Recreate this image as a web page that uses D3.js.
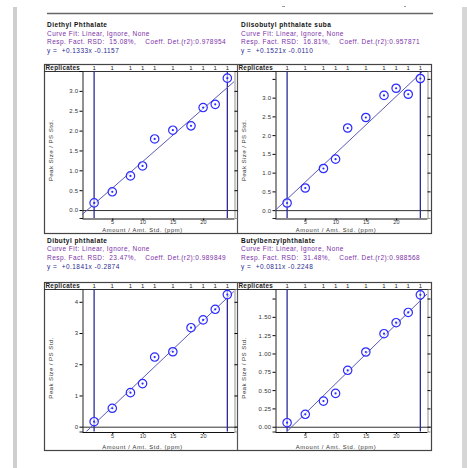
<!DOCTYPE html>
<html>
<head>
<meta charset="utf-8">
<script src="https://cdn.jsdelivr.net/npm/d3@7"></script>
<style>
  body { margin: 0; background: #fff; }
  text { font-family: Arial, "Liberation Sans", sans-serif; }
</style>
</head>
<body>
<div id="chart"></div>
<script>
// calibration levels (ppm) and replicate counts
let levels = [2, 5, 8, 10, 12, 15, 18, 20, 22, 24]
let replicates = [1, 1, 1, 1, 1, 1, 1, 1, 1, 1]

let compounds = ["Diethyl Phthalate", "Diisobutyl phthalate suba", "Dibutyl phthalate", "Butylbenzylphthalate"]
let rsd = ["15.08%", "16.81%", "23.47%", "31.48%"]
let r2 = ["0.978954", "0.957871", "0.989849", "0.988568"]
let slopes = [0.1333, 0.1521, 0.1841, 0.0811]
let intercepts = [-0.1157, -0.0110, -0.2874, -0.2248]

// peak size / PS std. ratios
let diethyl = [0.18, 0.46, 0.86, 1.11, 1.79, 2.01, 2.12, 2.58, 2.66, 3.32]
let diisobutyl = [0.19, 0.59, 1.11, 1.36, 2.19, 2.47, 3.06, 3.25, 3.09, 3.51]
let dibutyl = [0.16, 0.59, 1.09, 1.38, 2.23, 2.40, 3.17, 3.42, 3.76, 4.23]
let butylbenzyl = [0.055, 0.17, 0.35, 0.455, 0.77, 1.02, 1.27, 1.42, 1.56, 1.80]

let xTicks = [5, 10, 15, 20]
let yTicks = [
    [0, 0.5, 1.0, 1.5, 2.0, 2.5, 3.0, 3.5],
    [0, 0.5, 1.0, 1.5, 2.0, 2.5, 3.0, 3.5],
    [0, 1, 2, 3, 4],
    [0, 0.25, 0.5, 0.75, 1.0, 1.25, 1.5, 1.75]
]
let yLabelMax = [3.0, 3.0, 4, 1.5]   // highest tick that still carries a label
let yFormats = [".1f", ".1f", ".0f", ".2f"]
let yDomains = [[-0.2, 3.5], [-0.21, 3.71], [-0.154, 4.41], [-0.065, 1.88]]
let xDomain = [0, 25.1]

let series = [diethyl, diisobutyl, dibutyl, butylbenzyl]

let W = 467, H = 468
let svg = d3.select("#chart").append("svg")
    .attr("width", W).attr("height", H)

// page edges (grey scroll bars) and header rule
svg.append("rect").attr("x", 13).attr("y", 7).attr("width", 4).attr("height", H - 7).attr("fill", "#cfcfcf")
svg.append("rect").attr("x", 462).attr("y", 7).attr("width", 5).attr("height", H - 7).attr("fill", "#d6d6d6")
svg.append("line").attr("x1", 47).attr("x2", 433).attr("y1", 13.5).attr("y2", 13.5)
    .attr("stroke", "#666").attr("stroke-width", 1.5)
svg.append("line").attr("x1", 282).attr("x2", 285).attr("y1", 6.5).attr("y2", 6.5).attr("stroke", "#999")
svg.append("line").attr("x1", 404).attr("x2", 406).attr("y1", 6.5).attr("y2", 6.5).attr("stroke", "#999")

let cols = [{x0: 44, x1: 237}, {x0: 237, x1: 431}]
let rows = [
    {text: 25, top: 64, band: 71, axis: 218, bottom: 233},
    {text: 240.5, top: 282, band: 289, axis: 431.5, bottom: 450}
]

// outer boxes of each row
rows.forEach(function(r) {
    svg.append("rect").attr("x", cols[0].x0 + 0.5).attr("y", r.top + 0.5)
        .attr("width", cols[1].x1 - cols[0].x0).attr("height", r.bottom - r.top)
        .attr("fill", "none").attr("stroke", "#444").attr("stroke-width", 1.2)
    svg.append("line").attr("x1", cols[1].x0 + 0.5).attr("x2", cols[1].x0 + 0.5)
        .attr("y1", r.top).attr("y2", r.bottom).attr("stroke", "#555").attr("stroke-width", 1.2)
})

series.forEach(function(vals, i) {
    let c = cols[i % 2], r = rows[Math.floor(i / 2)]
    let textX = 47 + (i % 2) * 194

    // header text block
    let hd = svg.append("g").attr("font-size", 6.5).attr("letter-spacing", 0.45)
    hd.append("text").attr("x", textX).attr("y", r.text + 2).attr("font-weight", "bold")
        .attr("fill", "#111").text(compounds[i])
    hd.append("text").attr("x", textX).attr("y", r.text + 10.7).attr("fill", "#7b2fa8")
        .text("Curve Fit: Linear, Ignore, None")
    hd.append("text").attr("x", textX).attr("y", r.text + 19.4).attr("fill", "#7b2fa8")
        .attr("xml:space", "preserve")
        .text("Resp. Fact. RSD:  " + rsd[i] + ",    Coeff. Det.(r2):" + r2[i])
    hd.append("text").attr("x", textX).attr("y", r.text + 28).attr("fill", "#2a2a90")
        .attr("xml:space", "preserve")
        .text("y =  " + (slopes[i] >= 0 ? "+" : "") + slopes[i].toFixed(4) + "x " + intercepts[i].toFixed(4))

    let left = c.x0 + 38
    let right = left + 152
    let x = d3.scaleLinear().domain(xDomain).range([left, right])
    let y = d3.scaleLinear().domain(yDomains[i]).range([r.axis, r.band])

    let g = svg.append("g")

    // replicates band
    g.append("line").attr("x1", c.x0).attr("x2", c.x1).attr("y1", r.band + 0.5).attr("y2", r.band + 0.5)
        .attr("stroke", "#333").attr("stroke-width", 1)
    g.append("text").attr("x", c.x0 + 1.5).attr("y", r.band - 1.2).attr("font-size", 6.3)
        .attr("letter-spacing", 0.3).attr("font-weight", "bold").attr("fill", "#222").text("Replicates")
    g.selectAll(".rep").data(levels).enter().append("text")
        .attr("x", d => x(d)).attr("y", r.band - 1.5).attr("text-anchor", "middle")
        .attr("font-size", 6).attr("fill", "#222").text((d, k) => replicates[k])

    // clip for the plot area
    let clipId = "clip" + i
    g.append("clipPath").attr("id", clipId).append("rect")
        .attr("x", left).attr("y", r.band + 1).attr("width", right - left).attr("height", r.axis - r.band - 1)

    // left axis
    let yAxis = d3.axisLeft(y).tickValues(yTicks[i]).tickSize(3).tickPadding(1)
        .tickFormat(d => d <= yLabelMax[i] + 1e-9 ? d3.format(yFormats[i])(d) : "")
    let ya = g.append("g").attr("transform", "translate(" + (left + 0.5) + ",0)").call(yAxis)
    ya.select(".domain").attr("stroke", "#222")
    ya.selectAll("text").attr("font-size", 6).attr("letter-spacing", 0.3).attr("fill", "#333")
        .attr("font-family", "Arial, sans-serif")

    // right axis (ticks only)
    let ra = g.append("g").attr("transform", "translate(" + (right + 0.5) + ",0)")
        .call(d3.axisRight(y).tickValues(yTicks[i]).tickSize(3).tickFormat(""))
    ra.select(".domain").attr("stroke", "#777").attr("stroke-width", 0.8)

    // bottom axis
    let xa = g.append("g").attr("transform", "translate(0," + (r.axis + 0.5) + ")")
        .call(d3.axisBottom(x).tickValues(xTicks).tickSize(2).tickPadding(0).tickSizeOuter(0))
    xa.select(".domain").attr("stroke", "#111")
    xa.selectAll("text").attr("font-size", 5.5).attr("letter-spacing", 0.3).attr("fill", "#333")
        .attr("font-family", "Arial, sans-serif")

    // zero line
    g.append("line").attr("x1", left).attr("x2", c.x1).attr("y1", y(0) + 0.5).attr("y2", y(0) + 0.5)
        .attr("stroke", "#333").attr("stroke-width", 1)

    // axis titles
    g.append("text").attr("x", (c.x0 + c.x1) / 2 + 2).attr("y", r.bottom - 0.8)
        .attr("text-anchor", "middle").attr("font-size", 5.8).attr("letter-spacing", 0.65).attr("fill", "#333")
        .text("Amount / Amt. Std. (ppm)")
    g.append("text").attr("transform", "translate(" + (c.x0 + 9) + "," + ((r.top + r.bottom) / 2 + 2) + ") rotate(-90)")
        .attr("text-anchor", "middle").attr("font-size", 6.2).attr("letter-spacing", 0.4).attr("fill", "#333")
        .text("Peak Size / PS Std.")

    // range markers at lowest and highest level
    let ext = d3.extent(levels)
    ext.forEach(function(v) {
        g.append("line").attr("x1", x(v)).attr("x2", x(v)).attr("y1", r.band).attr("y2", r.axis)
            .attr("stroke", "#2a2a9a").attr("stroke-width", 1.3)
    })

    // regression line
    let fit = d3.line().x(d => x(d)).y(d => y(slopes[i] * d + intercepts[i]))
    g.append("path").datum(xDomain).attr("clip-path", "url(#" + clipId + ")")
        .attr("d", fit).attr("fill", "none").attr("stroke", "#5a5ab4").attr("stroke-width", 1)

    // data points
    let pts = g.selectAll(".pt").data(vals).enter().append("g")
        .attr("transform", (d, k) => "translate(" + x(levels[k]) + "," + y(d) + ")")
    pts.append("circle").attr("r", 4.2).attr("fill", "white").attr("fill-opacity", 0.6)
        .attr("stroke", "#2b2bff").attr("stroke-width", 1.2)
    pts.append("circle").attr("r", 1.1).attr("fill", "#2b2bff")
})
</script>
</body>
</html>
